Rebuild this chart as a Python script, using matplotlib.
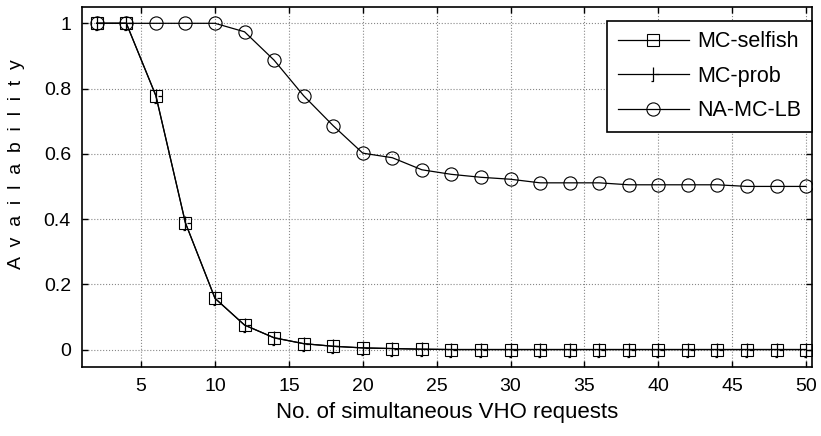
import matplotlib
matplotlib.use('Agg')
import matplotlib.pyplot as plt
from matplotlib.path import Path

plt.rcParams['font.family'] = ['Liberation Sans', 'DejaVu Sans']

# data
x = [2, 4, 6, 8, 10, 12, 14, 16, 18, 20, 22, 24, 26, 28, 30, 32, 34, 36, 38, 40, 42, 44, 46, 48, 50]
mc_selfish = [1, 1, 0.778, 0.388, 0.157, 0.075, 0.036, 0.018, 0.01, 0.005, 0.003, 0.001, 0, 0, 0, 0, 0, 0, 0, 0, 0, 0, 0, 0, 0]
mc_prob = [1, 1, 0.778, 0.388, 0.157, 0.075, 0.036, 0.018, 0.01, 0.005, 0.003, 0.001, 0, 0, 0, 0, 0, 0, 0, 0, 0, 0, 0, 0, 0]
na_mc_lb = [1, 1, 1, 1, 1, 0.974, 0.887, 0.778, 0.686, 0.602, 0.588, 0.551, 0.537, 0.528, 0.522, 0.511, 0.511, 0.511, 0.505,
            0.505, 0.505, 0.505, 0.5, 0.5, 0.5]
labels = ['MC-selfish', 'MC-prob', 'NA-MC-LB']

# odd little tick-like marker used for MC-prob
prob_marker = Path([(0, 0.8), (0, -0.8), (-0.25, -0.8), (0.25, 0.05), (0.7, 0.05)],
                   [Path.MOVETO, Path.LINETO, Path.LINETO, Path.MOVETO, Path.LINETO])

fig = plt.figure(figsize=(8.21, 4.36), dpi=100)
ax = fig.add_axes([82 / 821, 1 - 366.5 / 436, (812 - 82) / 821, (366.5 - 7) / 436])

ax.plot(x, mc_selfish, color='black', lw=0.9, marker='s', ms=9, mfc='none', mec='black', mew=0.8, label=labels[0])
ax.plot(x, mc_prob, color='black', lw=0.9, marker=prob_marker, ms=10, mfc='none', mec='black', mew=0.9, label=labels[1])
ax.plot(x, na_mc_lb, color='black', lw=0.9, marker='o', ms=9.5, mfc='none', mec='black', mew=0.8, label=labels[2])

ax.set_xlim(1, 50.4)
ax.set_ylim(-0.052, 1.05)
ax.set_xticks([5, 10, 15, 20, 25, 30, 35, 40, 45, 50])
ax.set_yticks([0, 0.2, 0.4, 0.6, 0.8, 1])
ax.set_yticklabels(['0', '0.2', '0.4', '0.6', '0.8', '1'])
ax.tick_params(direction='in', length=4, width=1, labelsize=14, top=True, right=True, pad=8)
ax.grid(True, color='#888888', linestyle=':', linewidth=0.8)
for s in ax.spines.values():
    s.set_linewidth(1.2)

ax.set_xlabel('No. of simultaneous VHO requests', fontsize=16, labelpad=5)
ax.set_ylabel('A  v  a  i  l  a  b  i  l  i  t  y', fontsize=14)
ax.yaxis.set_label_coords(-0.078, 0.563)

leg = ax.legend(loc='upper right', bbox_to_anchor=(1.0, 0.962), fontsize=15.5, fancybox=False,
                framealpha=1, edgecolor='black', borderpad=0.5, handlelength=3.3, handletextpad=0.4,
                labelspacing=0.62, borderaxespad=0)
leg.get_frame().set_linewidth(1.2)

fig.savefig('out.png', dpi=100)
